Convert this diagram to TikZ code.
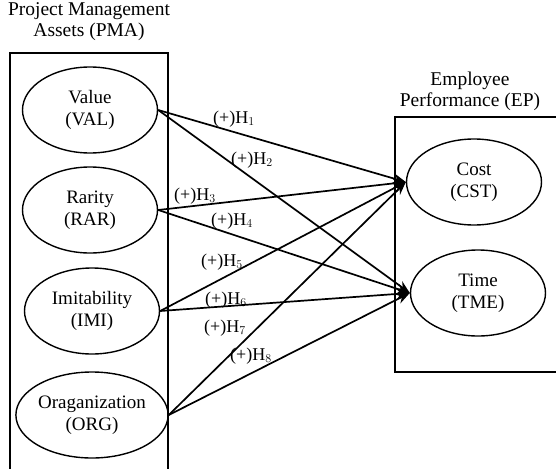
\documentclass[tikz,border=0pt]{standalone}
\usepackage{fontspec}
\setmainfont{Liberation Serif}
\usepackage{tikz}
\usetikzlibrary{shapes.geometric, arrows.meta, positioning}

\tikzset{
  construct/.style={ellipse, draw, line width=1.4pt, minimum width=135pt, minimum height=86pt,
    inner sep=0pt, align=center, font=\fontsize{19}{22}\selectfont},
  hyp/.style={inner sep=0pt, font=\fontsize{18}{22}\selectfont},
  title/.style={align=center, inner sep=0pt, font=\fontsize{19.5}{21}\selectfont},
  link/.style={line width=1.7pt, -{Stealth[length=13pt,width=10pt]}},
  frame/.style={line width=1.7pt},
}

\begin{document}
\begin{tikzpicture}[x=1pt, y=-1pt]
        \clip (0,0) rectangle (556,468);
        \fill[white] (0,0) rectangle (556,468);
        % the two blocks
        \draw[frame] (10,480) -- (10,53) -- (168,53) -- (168,480);
        \draw[frame] (570,117) -- (395,117) -- (395,372) -- (570,372);
        \node[title] (pma) at (89,22) {Project Management\\Assets (PMA)};
        \node[title] (ep) at (470,91) {Employee\\Performance (EP)};
        % constructs
        \node[construct] (val) at (90,110) {Value\\(VAL)};
        \node[construct] (rar) at (90,210) {Rarity\\(RAR)};
        \node[construct] (imi) at (92,311) {Imitability\\(IMI)};
        \node[construct] (org) at (92,415) {Oraganization\\(ORG)};
        \node[construct] (cst) at (474,182) {Cost\\(CST)};
        \node[construct] (tme) at (478,293) {Time\\(TME)};
        % hypotheses
        \draw[link] (val.east) -- (cst.west);
        \draw[link] (val.east) -- (tme.west);
        \draw[link] (rar.east) -- (cst.west);
        \draw[link] (rar.east) -- (tme.west);
        \draw[link] (imi.east) -- (cst.west);
        \draw[link] (imi.east) -- (tme.west);
        \draw[link] (org.east) -- (cst.west);
        \draw[link] (org.east) -- (tme.west);
        \node[hyp] (h1) at (234,119) {(+)H$_1$};
        \node[hyp] (h2) at (252,160) {(+)H$_2$};
        \node[hyp] (h3) at (195,196) {(+)H$_3$};
        \node[hyp] (h4) at (232,221) {(+)H$_4$};
        \node[hyp] (h5) at (222,262) {(+)H$_5$};
        \node[hyp] (h6) at (226,300) {(+)H$_6$};
        \node[hyp] (h7) at (225,328) {(+)H$_7$};
        \node[hyp] (h8) at (251,356) {(+)H$_8$};
    \end{tikzpicture}
\end{document}
